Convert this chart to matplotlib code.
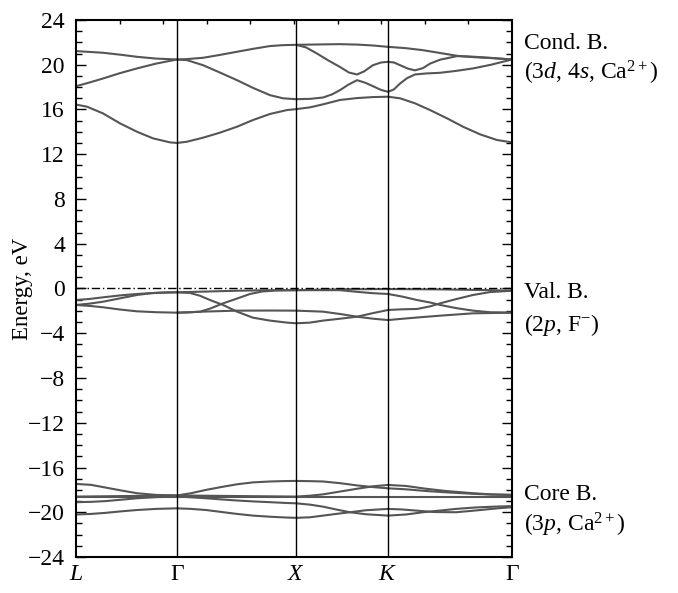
import matplotlib
matplotlib.use("Agg")
import matplotlib.pyplot as plt
import matplotlib.transforms as mtransforms
import numpy as np

plt.rcParams['font.family'] = ['Liberation Serif', 'DejaVu Serif']
plt.rcParams['mathtext.fontset'] = 'custom'
plt.rcParams['mathtext.rm'] = 'Liberation Serif'
plt.rcParams['mathtext.it'] = 'Liberation Serif:italic'

# high-symmetry points (path distance, arbitrary units)
kpoint_pos = [0, 101, 220, 312, 436]
kpoint_labels = [r'$\it{L}$', 'Γ', r'$\it{X}$', r'$\it{K}$', 'Γ']

# ---- conduction bands (k, E in eV) ----
cb1_k = [0, 11, 27, 44, 61, 77, 94, 101, 111, 127, 144, 161, 177, 194, 211, 220,
         234, 247, 264, 281, 297, 312, 324, 339, 354, 371, 387, 404, 421, 436]
cb1_e = [16.44, 16.25, 15.65, 14.76, 14.01, 13.42, 13.06, 13.01, 13.12, 13.48, 13.93, 14.46, 15.06, 15.6, 15.95, 16.03,
         16.19, 16.46, 16.85, 17.02, 17.11, 17.14, 17.0, 16.55, 15.95, 15.21, 14.46, 13.78, 13.27, 13.06]

cb2_k = [0, 13, 27, 44, 61, 80, 101, 111, 127, 144, 161, 177, 194, 207, 220,
         234, 247, 256, 264, 272, 281, 289, 297, 305, 312, 318, 324, 331, 339, 350, 364, 380, 397, 415, 436]
cb2_e = [18.08, 18.4, 18.77, 19.25, 19.67, 20.1, 20.47, 20.41, 19.96, 19.3, 18.62, 17.93, 17.28, 17.0, 16.92,
         16.95, 17.07, 17.35, 17.73, 18.2, 18.62, 18.4, 18.08, 17.75, 17.58, 17.8, 18.32, 18.8, 19.13, 19.22, 19.28, 19.45, 19.67, 20.0, 20.47]

cb3_k = [0, 27, 44, 61, 80, 101, 110, 127, 144, 161, 177, 194, 207, 220,
         230, 241, 252, 264, 273, 281, 288, 297, 305, 312, 318, 324, 332, 339, 347, 354, 364, 381, 397, 414, 436]
cb3_e = [21.22, 21.07, 20.9, 20.71, 20.55, 20.47, 20.5, 20.62, 20.88, 21.16, 21.42, 21.67, 21.75, 21.78,
         21.55, 21.0, 20.4, 19.8, 19.3, 19.13, 19.4, 19.96, 20.2, 20.26, 20.2, 19.96, 19.65, 19.5, 19.7, 20.1, 20.45, 20.77, 20.72, 20.62, 20.47]

cb4_k = [220, 247, 264, 281, 297, 312, 330, 347, 364, 381, 397, 414, 436]
cb4_e = [21.78, 21.82, 21.84, 21.8, 21.72, 21.6, 21.48, 21.3, 21.05, 20.8, 20.68, 20.6, 20.47]

# ---- valence bands ----
vb1_k = [0, 14, 27, 44, 61, 80, 101, 127, 161, 194, 220, 264, 312, 364, 414, 436]
vb1_e = [-1.03, -0.93, -0.79, -0.62, -0.49, -0.39, -0.34, -0.28, -0.2, -0.15, -0.15, -0.07, -0.05, -0.08, -0.15, -0.2]

vb2_k = [0, 14, 27, 44, 61, 75, 90, 101]
vb2_e = [-1.47, -1.35, -1.18, -0.88, -0.58, -0.42, -0.35, -0.34]

vb3_k = [0, 14, 27, 44, 61, 80, 101, 130, 161, 194, 220, 247, 264, 281, 297, 312, 340, 364, 397, 436]
vb3_e = [-1.47, -1.56, -1.68, -1.88, -2.04, -2.12, -2.16, -2.06, -1.98, -1.97, -1.98, -2.07, -2.28, -2.52, -2.7, -2.82, -2.6, -2.43, -2.22, -2.16]

vb4_k = [101, 114, 124, 134, 147, 161, 177, 194, 211, 220, 234, 247, 264, 281, 297, 312, 326, 341, 354, 364, 380, 397, 414, 436]
vb4_e = [-0.34, -0.4, -0.65, -1.03, -1.47, -2.07, -2.61, -2.87, -3.05, -3.11, -3.05, -2.87, -2.7, -2.52, -2.2, -1.92, -1.86, -1.83, -1.6, -1.33, -0.95, -0.58, -0.32, -0.2]

vb5_k = [101, 112, 124, 134, 147, 161, 174, 186, 200, 220, 264, 281, 297, 312, 326, 341, 354, 364, 380, 397, 414, 436]
vb5_e = [-2.16, -2.14, -2.07, -1.8, -1.33, -0.9, -0.49, -0.27, -0.18, -0.15, -0.15, -0.3, -0.42, -0.49, -0.72, -1.03, -1.25, -1.47, -1.75, -1.98, -2.12, -2.16]

# ---- core bands ----
cc_flat_k = [0, 436]
cc_flat_e = [-18.6, -18.6]

cc1_k = [0, 15, 30, 45, 61, 80, 101, 115, 130, 145, 161, 177, 194, 210, 220,
         234, 247, 264, 281, 297, 312, 330, 350, 370, 397, 415, 436]
cc1_e = [-17.47, -17.55, -17.8, -18.05, -18.3, -18.45, -18.5, -18.3, -18.0, -17.75, -17.5, -17.33, -17.25, -17.21, -17.2,
         -17.22, -17.25, -17.4, -17.6, -17.75, -17.86, -17.95, -18.1, -18.22, -18.35, -18.42, -18.45]

cc2_k = [0, 101, 220, 234, 247, 264, 281, 297, 312, 330, 350, 370, 397, 415, 436]
cc2_e = [-18.6, -18.5, -18.6, -18.52, -18.4, -18.15, -17.9, -17.68, -17.56, -17.65, -17.9, -18.1, -18.3, -18.4, -18.45]

cc3_k = [0, 15, 30, 45, 61, 80, 101, 115, 130, 145, 161, 177, 194, 210, 220,
         234, 247, 260, 274, 290, 312, 330, 347, 364, 380, 400, 418, 436]
cc3_e = [-19.1, -19.07, -19.0, -18.88, -18.75, -18.65, -18.6, -18.66, -18.75, -18.85, -18.95, -19.03, -19.1, -19.17, -19.2,
         -19.32, -19.5, -19.75, -20.0, -20.18, -20.3, -20.2, -20.0, -19.85, -19.7, -19.57, -19.5, -19.45]

cc4_k = [0, 15, 30, 45, 61, 80, 101, 115, 130, 145, 161, 177, 194, 210, 220,
         234, 247, 260, 274, 290, 312, 326, 340, 358, 380, 395, 410, 424, 436]
cc4_e = [-20.2, -20.15, -20.05, -19.92, -19.8, -19.7, -19.65, -19.7, -19.8, -19.97, -20.15, -20.3, -20.4, -20.47, -20.5,
         -20.45, -20.3, -20.15, -20.0, -19.82, -19.7, -19.75, -19.85, -19.98, -20.0, -19.88, -19.75, -19.63, -19.55]

bands = [
    (cb1_k, cb1_e), (cb2_k, cb2_e), (cb3_k, cb3_e), (cb4_k, cb4_e),
    (vb1_k, vb1_e), (vb2_k, vb2_e), (vb3_k, vb3_e), (vb4_k, vb4_e), (vb5_k, vb5_e),
    (cc_flat_k, cc_flat_e), (cc1_k, cc1_e), (cc2_k, cc2_e), (cc3_k, cc3_e), (cc4_k, cc4_e),
]

fig = plt.figure(figsize=(6.78, 5.93), dpi=100)
ax = fig.add_axes([0.1121, 0.0607, 0.6431, 0.9056])

band_color = '#555555'
for k, e in bands:
    ax.plot(k, e, color=band_color, lw=1.5, solid_capstyle='round', solid_joinstyle='round')

for xp in kpoint_pos[1:-1]:
    ax.axvline(xp, color='black', lw=1.0)

ax.axhline(0, color='black', lw=1.0, ls=(0, (6, 2, 1, 2)))

ax.set_xlim(kpoint_pos[0], kpoint_pos[-1])
ax.set_ylim(-24, 24)
ax.set_yticks(np.arange(-24, 25, 4))
ax.set_yticklabels([f"{v}".replace('-', '\u2212') for v in range(-24, 25, 4)])
ax.set_yticks(np.arange(-24, 25, 1), minor=True)
ax.set_xticks(kpoint_pos)
ax.set_xticklabels(kpoint_labels)
ax.set_xticks(np.linspace(kpoint_pos[0], kpoint_pos[-1], 11), minor=True)

ax.tick_params(axis='y', which='major', direction='in', length=7, width=1.0,
               left=True, right=True, labelsize=17, pad=8)
ax.tick_params(axis='y', which='minor', direction='in', length=4, width=1.0,
               left=True, right=True)
ax.tick_params(axis='x', which='major', length=0, labelsize=17, pad=5)
ax.tick_params(axis='x', which='minor', direction='in', length=3, width=1.0,
               top=True, bottom=False)

for s in ax.spines.values():
    s.set_linewidth(1.5)

ax.set_ylabel('Energy, eV', fontsize=16.5)
ax.yaxis.set_label_coords(-0.098, 0.5)

trans = mtransforms.blended_transform_factory(ax.transAxes, ax.transData)
tx = 1.027
fs = 17
ax.text(tx, 21.9, 'Cond. B.', transform=trans, fontsize=fs, va='center', ha='left')
ax.text(tx, 19.3, r'(3$\it{d}$, 4$\it{s}$, Ca$^{2+}$)', transform=trans, fontsize=fs, va='center', ha='left')
ax.text(tx, -0.4, 'Val. B.', transform=trans, fontsize=fs, va='center', ha='left')
ax.text(tx, -3.3, r'(2$\it{p}$, F$^{-}$)', transform=trans, fontsize=fs, va='center', ha='left')
ax.text(tx, -18.45, 'Core B.', transform=trans, fontsize=fs, va='center', ha='left')
ax.text(tx, -21.1, r'(3$\it{p}$, Ca$^{2+}$)', transform=trans, fontsize=fs, va='center', ha='left')

fig.savefig('out.png', dpi=100)
